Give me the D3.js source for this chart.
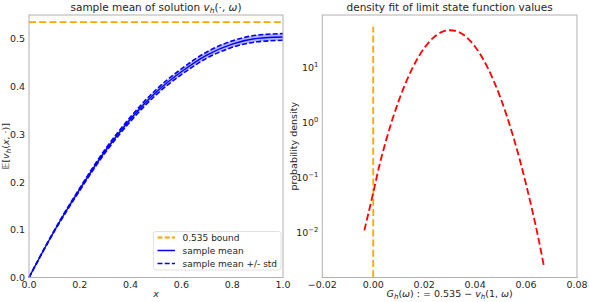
<!DOCTYPE html>
<html><head><meta charset="utf-8">
<script src="https://cdn.jsdelivr.net/npm/d3@7"></script>
<style>
body{margin:0;background:#fff;}
text{font-family:"DejaVu Sans",sans-serif;fill:#262626;}
</style></head>
<body><svg id="c" width="589" height="302"></svg>
<script>
// ---- data (left panel) ----
const xs = [0, 0.1, 0.2, 0.3, 0.4, 0.5, 0.6, 0.7, 0.8, 0.9, 1.0];
const meanVals = [0, 0.098, 0.185, 0.265, 0.332, 0.388, 0.431, 0.466, 0.489, 0.501, 0.504];
const stdVals = [0, 0.0014, 0.0026, 0.0037, 0.0046, 0.0054, 0.006, 0.0065, 0.0068, 0.007, 0.007];
const bound = 0.535;
const leftXTicks = [0, 0.2, 0.4, 0.6, 0.8, 1.0];
const leftYTicks = [0, 0.1, 0.2, 0.3, 0.4, 0.5];
const legendLabels = ["0.535 bound", "sample mean", "sample mean +/- std"];
// ---- data (right panel) ----
const gVals = [-0.0035, 0.0, 0.0025, 0.005, 0.0075, 0.01, 0.0125, 0.015, 0.0175, 0.02, 0.0225, 0.025, 0.0275, 0.03, 0.0325, 0.035, 0.0375, 0.04, 0.0425, 0.045, 0.0475, 0.05, 0.0525, 0.055, 0.0575, 0.06, 0.0625, 0.065, 0.067];
const densVals = [0.0107, 0.052, 0.17, 0.46, 1.12, 2.45, 4.9, 8.9, 14.8, 22.4, 31.0, 39.2, 45.3, 47.5, 46.0, 40.4, 32.4, 23.8, 15.9, 9.7, 5.4, 2.75, 1.28, 0.54, 0.21, 0.074, 0.024, 0.0071, 0.0024];
const vlineRange = [0.0015, 55];
const rightXTicks = [-0.02, 0, 0.02, 0.04, 0.06, 0.08];
const rightYTicks = [-2, -1, 0, 1];

const svg = d3.select("#c");
const spine = "#b0b0b0";
const fs = 9.5;

function frame(g, L, R, T, B){
  g.append("rect").attr("x",L).attr("y",T).attr("width",R-L).attr("height",B-T)
   .attr("fill","none").attr("stroke",spine).attr("stroke-width",1);
}

// ===== Left panel =====
const L1=29, R1=283, T1=15, B1=277.5;
const x1 = d3.scaleLinear().domain([0,1]).range([L1,R1]);
const y1 = d3.scaleLinear().domain([0,0.55]).range([B1,T1]);
const g1 = svg.append("g");
const pts = xs.map((x,i)=>({x, m:meanVals[i], s:stdVals[i]}));
const cur = d3.curveMonotoneX;
g1.append("path").datum(pts)
  .attr("d", d3.area().curve(cur).x(d=>x1(d.x)).y0(d=>y1(d.m-d.s)).y1(d=>y1(d.m+d.s)))
  .attr("fill","rgba(0,0,255,0.3)");
g1.append("path").datum(pts)
  .attr("d", d3.line().curve(cur).x(d=>x1(d.x)).y(d=>y1(d.m+d.s)))
  .attr("fill","none").attr("stroke","#0000ff").attr("stroke-width",1.6).attr("stroke-dasharray","5,2.2");
g1.append("path").datum(pts)
  .attr("d", d3.line().curve(cur).x(d=>x1(d.x)).y(d=>y1(d.m-d.s)))
  .attr("fill","none").attr("stroke","#0000ff").attr("stroke-width",1.6).attr("stroke-dasharray","5,2.2");
g1.append("path").datum(pts)
  .attr("d", d3.line().curve(cur).x(d=>x1(d.x)).y(d=>y1(d.m)))
  .attr("fill","none").attr("stroke","#0000ff").attr("stroke-width",1.4);
g1.append("line").attr("x1",x1(0)).attr("x2",x1(1)).attr("y1",y1(bound)).attr("y2",y1(bound))
  .attr("stroke","orange").attr("stroke-width",1.8).attr("stroke-dasharray","7,3.2");
frame(g1,L1,R1,T1,B1);
leftXTicks.forEach(t=>g1.append("text").attr("x",x1(t)).attr("y",B1+10).attr("text-anchor","middle")
  .attr("font-size",fs).text(t.toFixed(1)));
leftYTicks.forEach(t=>g1.append("text").attr("x",L1-4).attr("y",y1(t)+3.5).attr("text-anchor","end")
  .attr("font-size",fs).text(t.toFixed(1)));
// title
const t1 = g1.append("text").attr("x",(L1+R1)/2).attr("y",11).attr("text-anchor","middle").attr("font-size",10.5);
t1.append("tspan").text("sample mean of solution ");
t1.append("tspan").attr("font-style","italic").text("v");
t1.append("tspan").attr("font-style","italic").attr("font-size",7.5).attr("dy",2).text("h");
t1.append("tspan").attr("dy",-2).text("(·, ");
t1.append("tspan").attr("font-style","italic").text("ω");
t1.append("tspan").text(")");
// x label
g1.append("text").attr("x",(L1+R1)/2).attr("y",297).attr("text-anchor","middle").attr("font-size",fs)
  .attr("font-style","italic").text("x");
// y label
const yl = g1.append("text").attr("transform",`translate(9,${(T1+B1)/2}) rotate(-90)`).attr("text-anchor","middle").attr("font-size",fs);
yl.append("tspan").text("𝔼[");
yl.append("tspan").attr("font-style","italic").text("v");
yl.append("tspan").attr("font-style","italic").attr("font-size",7).attr("dy",2).text("h");
yl.append("tspan").attr("dy",-2).text("(");
yl.append("tspan").attr("font-style","italic").text("x");
yl.append("tspan").text(", ·)]");
// legend
const lg = g1.append("g");
const lx=153.5, ly=231.5, lw=127.5, lh=38.5;
lg.append("rect").attr("x",lx).attr("y",ly).attr("width",lw).attr("height",lh).attr("rx",2.5)
  .attr("fill","rgba(255,255,255,0.8)").attr("stroke","#d9d9d9").attr("stroke-width",0.8);
const legStyles=[{c:"orange",d:"5,2.2",w:1.8},{c:"#0000ff",d:null,w:1.5},{c:"#0000ff",d:"5,2.2",w:1.6}];
legendLabels.forEach((lab,i)=>{
  const yy = ly+6+i*13;
  const ln = lg.append("line").attr("x1",lx+4).attr("x2",lx+21.5).attr("y1",yy).attr("y2",yy)
    .attr("stroke",legStyles[i].c).attr("stroke-width",legStyles[i].w);
  if(legStyles[i].d) ln.attr("stroke-dasharray",legStyles[i].d);
  lg.append("text").attr("x",lx+29).attr("y",yy+3.3).attr("font-size",9).text(lab);
});

// ===== Right panel =====
const L2=322.3, R2=577, T2=15, B2=277.5;
const x2 = d3.scaleLinear().domain([-0.02,0.08]).range([L2,R2]);
const y2 = d3.scaleLog().domain([0.00148, 90]).range([B2,T2]);
const g2 = svg.append("g");
g2.append("line").attr("x1",x2(0)).attr("x2",x2(0)).attr("y1",y2(vlineRange[0])).attr("y2",y2(vlineRange[1]))
  .attr("stroke","orange").attr("stroke-width",1.8).attr("stroke-dasharray","7,3.2");
const dp = gVals.map((g,i)=>({g, d:densVals[i]}));
g2.append("path").datum(dp)
  .attr("d", d3.line().curve(d3.curveMonotoneX).x(d=>x2(d.g)).y(d=>y2(d.d)))
  .attr("fill","none").attr("stroke","red").attr("stroke-width",1.8).attr("stroke-dasharray","7,3.2");
frame(g2,L2,R2,T2,B2);
rightXTicks.forEach(t=>g2.append("text").attr("x",x2(t)).attr("y",B2+10).attr("text-anchor","middle")
  .attr("font-size",fs).text((t<0?"−":"")+Math.abs(t).toFixed(2)));
rightYTicks.forEach(e=>{
  const tt = g2.append("text").attr("x",L2-4).attr("y",y2(Math.pow(10,e))+4).attr("text-anchor","end").attr("font-size",fs);
  tt.append("tspan").text("10");
  tt.append("tspan").attr("font-size",6.8).attr("dy",-4).text(e<0?"−"+Math.abs(e):String(e));
});
g2.append("text").attr("x",(L2+R2)/2).attr("y",11).attr("text-anchor","middle").attr("font-size",10.5)
  .text("density fit of limit state function values");
g2.append("text").attr("transform",`translate(297,${(T2+B2)/2}) rotate(-90)`).attr("text-anchor","middle")
  .attr("font-size",fs).text("probability density");
const xl2 = g2.append("text").attr("x",(L2+R2)/2).attr("y",297).attr("text-anchor","middle").attr("font-size",fs);
xl2.append("tspan").attr("font-style","italic").text("G");
xl2.append("tspan").attr("font-style","italic").attr("font-size",7).attr("dy",2).text("h");
xl2.append("tspan").attr("dy",-2).text("(");
xl2.append("tspan").attr("font-style","italic").text("ω");
xl2.append("tspan").text(") : = 0.535 − ");
xl2.append("tspan").attr("font-style","italic").text("v");
xl2.append("tspan").attr("font-style","italic").attr("font-size",7).attr("dy",2).text("h");
xl2.append("tspan").attr("dy",-2).text("(1, ");
xl2.append("tspan").attr("font-style","italic").text("ω");
xl2.append("tspan").text(")");
</script></body></html>
